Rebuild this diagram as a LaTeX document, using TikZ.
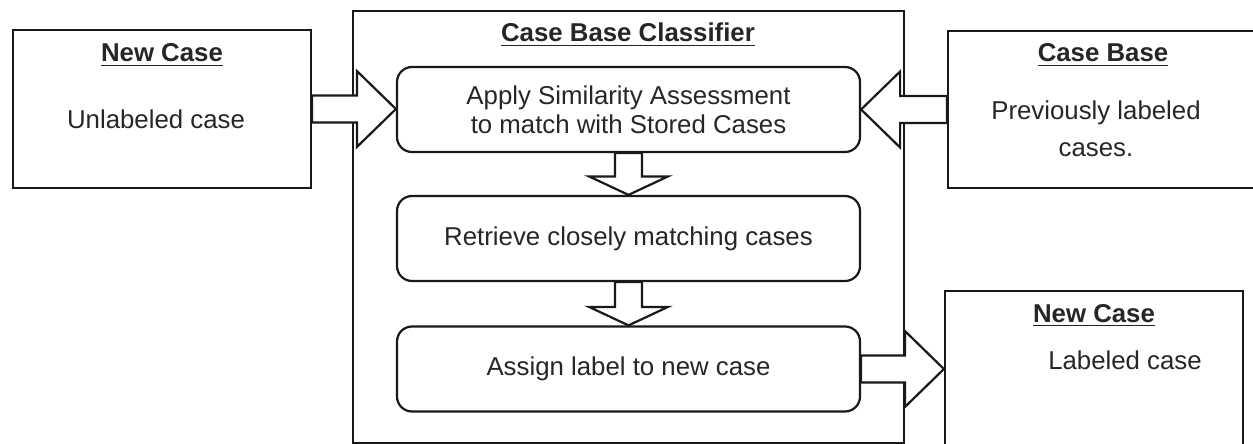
\documentclass[tikz,border=0pt]{standalone}
\usepackage{fontspec}
\setmainfont{Liberation Sans}
\usetikzlibrary{calc}

\begin{document}
\begin{tikzpicture}[x=0.5pt,y=-0.5pt,
  font=\fontsize{12.9}{14.5}\selectfont,text=black!85,
  box/.style={draw=black!90,line width=1.1pt,minimum width=149pt,minimum height=79pt,inner sep=0pt},
  cls/.style={box,minimum width=275.5pt,minimum height=216pt},
  stp/.style={box,rounded corners=7.5pt,minimum width=231.5pt,minimum height=42.5pt,align=center},
  ttl/.style={font=\fontsize{12.9}{14.5}\selectfont\bfseries,anchor=base,inner sep=0pt},
  txt/.style={anchor=base,inner sep=0pt,align=center},
  blk/.style={draw=black!90,line width=1.1pt,fill=white,line join=miter},
  ha/.style={blk,to path={let \p1=(\tikztostart),\p2=(\tikztotarget),
      \n1={ifthenelse(\x2>\x1,19.5,-19.5)} in
      (\x1,\y1+6.75pt) -- (\x2-\n1,\y1+6.75pt) -- (\x2-\n1,\y1+19pt) -- (\x2,\y1)
      -- (\x2-\n1,\y1-19pt) -- (\x2-\n1,\y1-6.75pt) -- (\x1,\y1-6.75pt) -- cycle}},
  va/.style={blk,to path={let \p1=(\tikztostart),\p2=(\tikztotarget) in
      (\x1-6.75pt,\y1) -- (\x1-6.75pt,\y2+9.25pt) -- (\x1-19.75pt,\y2+9.25pt) -- (\x1,\y2)
      -- (\x1+19.75pt,\y2+9.25pt) -- (\x1+6.75pt,\y2+9.25pt) -- (\x1+6.75pt,\y1) -- cycle}}]

\clip (0,0) rectangle (1253,444);

% ---- outer boxes ----
\node[box] (newin) at (162,109) {};
\node[cls] (clsf) at (628.5,227) {};
\node[box,minimum width=158.5pt,minimum height=78.5pt] (base) at (1106.5,109.5) {};
\node[box,minimum height=79.5pt] (newout) at (1094,370.5) {};

% ---- classifier steps ----
\node[stp] (match) at (628.5,109.5) {Apply Similarity Assessment\\to match with Stored Cases};
\node[stp] (retr) at (628.5,238.5) {Retrieve closely matching cases};
\node[stp] (assign) at (628.5,369) {Assign label to new case};
\coordinate (outtip) at (newout.west |- assign.east);

% ---- block arrows ----
\draw[ha] (newin.east) to (match.west);
\draw[ha] (base.west) to (match.east);
\draw[ha] (assign.east) to (outtip);
\draw[va] (match.south) to (retr.north);
\draw[va] (retr.south) to (assign.north);

% ---- texts ----
\node[ttl] (tin) at (162,62) {\underline{New Case}};
\node[txt] (lin) at (156,129) {Unlabeled case};
\node[ttl] (tcls) at (628,42) {\underline{Case Base Classifier}};
\node[ttl] (tbase) at (1103,62) {\underline{Case Base}};
\node[txt,anchor=north,font=\fontsize{12.9}{18.5}\selectfont] (lbase) at (1096,100) {Previously labeled\\cases.};
\node[ttl] (tout) at (1094,322) {\underline{New Case}};
\node[txt] (lout) at (1125,369) {Labeled case};
\end{tikzpicture}
\end{document}
